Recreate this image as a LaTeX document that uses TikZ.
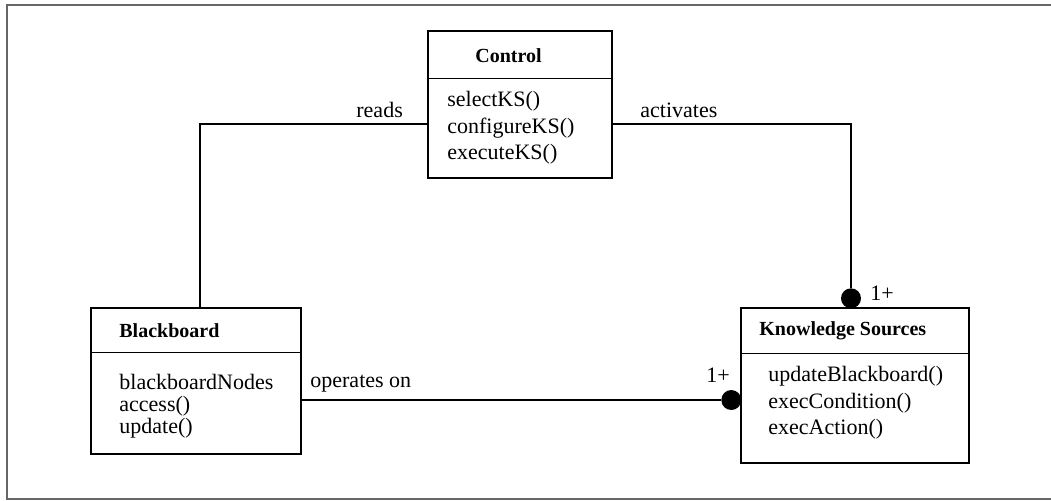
\documentclass[tikz,border=0pt]{standalone}
\usepackage{fontspec}
\setmainfont{Liberation Serif}
\usetikzlibrary{positioning}

\begin{document}
\begin{tikzpicture}[x=0.5pt, y=-0.5pt, font=\fontsize{11}{13}\selectfont]
    \tikzstyle{classbox} = [rectangle, draw, line width=0.7pt, inner sep=0pt]
    \tikzstyle{txt} = [anchor=base west, inner sep=0pt]
    \tikzstyle{link} = [line width=0.6pt]
    \tikzstyle{manydot} = [circle, fill, inner sep=0pt, minimum size=10pt]
    \tikzstyle{frameline} = [line width=0.8pt, black!60]

    \useasboundingbox (0,0) rectangle (1051,500);
    \draw[frameline] (1051,5) -- (7,5) -- (7,499) -- (1051,499);

    % Classes
    \node[classbox, minimum width=92pt, minimum height=73.5pt] (ctrl) at (520,104.5) {};
    \node[classbox, minimum width=105pt, minimum height=73pt] (bb) at (196,381) {};
    \node[classbox, minimum width=114pt, minimum height=77.5pt] (ks) at (855,385.5) {};
    \draw[line width=0.7pt] ([yshift=-24pt]ctrl.north west) -- ([yshift=-24pt]ctrl.north east);
    \draw[line width=0.7pt] ([yshift=-22.5pt]bb.north west) -- ([yshift=-22.5pt]bb.north east);
    \draw[line width=0.7pt] ([yshift=-23pt]ks.north west) -- ([yshift=-23pt]ks.north east);

    % Control
    \node[txt, font=\bfseries] (ctrlname) at (475,62) {Control};
    \node[txt] (select) at (447,106) {selectKS()};
    \node[txt] (configure) at (447,133) {configureKS()};
    \node[txt] (execute) at (447,159) {executeKS()};

    % Blackboard
    \node[txt, font=\bfseries] (bbname) at (119,337) {Blackboard};
    \node[txt] (bbnodes) at (119,389) {blackboardNodes};
    \node[txt] (access) at (119,411) {access()};
    \node[txt] (update) at (119,433) {update()};

    % Knowledge Sources
    \node[txt, font=\bfseries] (ksname) at (759,335) {Knowledge Sources};
    \node[txt] (updbb) at (768,381) {updateBlackboard()};
    \node[txt] (cond) at (768,408) {execCondition()};
    \node[txt] (action) at (768,434) {execAction()};

    % Associations
    \coordinate (toprow) at (0,124);
    \coordinate (oprow) at (0,400);
    \coordinate (opend) at (ks.west |- oprow);
    \node[manydot] (topdot) at ([xshift=-2pt, yshift=4.5pt]ks.north) {};
    \node[manydot] (leftdot) at ([xshift=-4.5pt]opend) {};
    \draw[link] ([xshift=2pt]bb.north) |- (ctrl.west |- toprow);
    \draw[link] (ctrl.east |- toprow) -| (topdot);
    \draw[link] (bb.east |- oprow) -- (leftdot);

    % Labels
    \node[txt] (reads) at (356,117) {reads};
    \node[txt] (activates) at (640,117) {activates};
    \node[txt] (operates) at (310,387) {operates on};
    \node[txt] (multtop) at (870,300) {1+};
    \node[txt] (multleft) at (706,382) {1+};
\end{tikzpicture}
\end{document}
